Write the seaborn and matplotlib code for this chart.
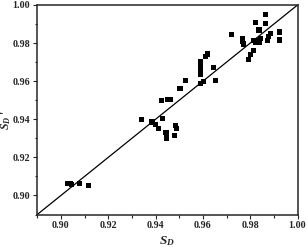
import numpy as np
import pandas as pd
import matplotlib
matplotlib.use("Agg")
import matplotlib.pyplot as plt
import seaborn as sns
from matplotlib.ticker import MultipleLocator

# measured vs predicted
sd = [0.9028, 0.9038, 0.9044, 0.9077, 0.9118,
      0.9339, 0.9385, 0.9401, 0.9411, 0.9430, 0.9424, 0.9451, 0.9463,
      0.9444, 0.9446, 0.9483, 0.9487, 0.9480, 0.9503, 0.9525,
      0.9590, 0.9590, 0.9590, 0.9590, 0.9590, 0.9590, 0.9603, 0.9610,
      0.9621, 0.9646, 0.9654, 0.9721, 0.9768, 0.9769, 0.9772, 0.9794,
      0.9801, 0.9814, 0.9813, 0.9821, 0.9824, 0.9837, 0.9837, 0.9844,
      0.9863, 0.9863, 0.9872, 0.9876, 0.9886, 0.9923, 0.9924, 0.9831]
sd_pred = [0.9063, 0.9061, 0.9058, 0.9061, 0.9052,
           0.9397, 0.9386, 0.9374, 0.9353, 0.9406, 0.9497, 0.9505, 0.9502,
           0.9330, 0.9302, 0.9369, 0.9351, 0.9316, 0.9563, 0.9605,
           0.9705, 0.9678, 0.9663, 0.9649, 0.9635, 0.9589, 0.9598, 0.9729,
           0.9743, 0.9671, 0.9603, 0.9843, 0.9823, 0.9809, 0.9795, 0.9712,
           0.9741, 0.9760, 0.9813, 0.9802, 0.9907, 0.9806, 0.9869, 0.9822,
           0.9951, 0.9902, 0.9813, 0.9834, 0.9850, 0.9858, 0.9816, 0.9813]
diag = [0.89, 1.00]
ticks = [0.90, 0.92, 0.94, 0.96, 0.98, 1.00]
tick_labels = ["0.90", "0.92", "0.94", "0.96", "0.98", "1.00"]

df = pd.DataFrame({"SD": sd, "SDp": sd_pred})

sns.set_style("ticks")
plt.rcParams["font.family"] = ["Liberation Serif", "DejaVu Serif"]
plt.rcParams["mathtext.fontset"] = "custom"
plt.rcParams["mathtext.rm"] = "Liberation Serif:bold"
plt.rcParams["mathtext.it"] = "Liberation Serif:italic:bold"
plt.rcParams["mathtext.bf"] = "Liberation Serif:bold"

fig = plt.figure(figsize=(3.08, 2.5), dpi=100)
ax = fig.add_axes([0.121, 0.142, 0.845, 0.838])

sns.lineplot(x=diag, y=diag, color="black", linewidth=0.9, ax=ax)
sns.scatterplot(data=df, x="SD", y="SDp", marker="s", s=14, color="black",
                edgecolor="none", ax=ax, zorder=3)

ax.set_xlim(0.89, 1.00)
ax.set_ylim(0.89, 1.00)
ax.xaxis.set_minor_locator(MultipleLocator(0.01))
ax.yaxis.set_minor_locator(MultipleLocator(0.01))
ax.set_xticks(ticks)
ax.set_yticks(ticks)
ax.set_xticklabels(tick_labels)
ax.set_yticklabels(tick_labels)
ax.tick_params(which="major", length=3, width=0.8, labelsize=7.2, pad=2)
ax.tick_params(which="minor", length=1.8, width=0.8)
for lab in ax.get_xticklabels() + ax.get_yticklabels():
    lab.set_fontweight("bold")
for sp in ax.spines.values():
    sp.set_visible(True)
    sp.set_linewidth(1.1)

ax.set_xlabel(r"$S_D$", fontsize=9.5, labelpad=3)
ax.set_ylabel(r"$S_D$ '", fontsize=8.5, fontweight="bold")
ax.yaxis.set_label_coords(-0.092, 0.45)

fig.savefig("out.png", dpi=100)
